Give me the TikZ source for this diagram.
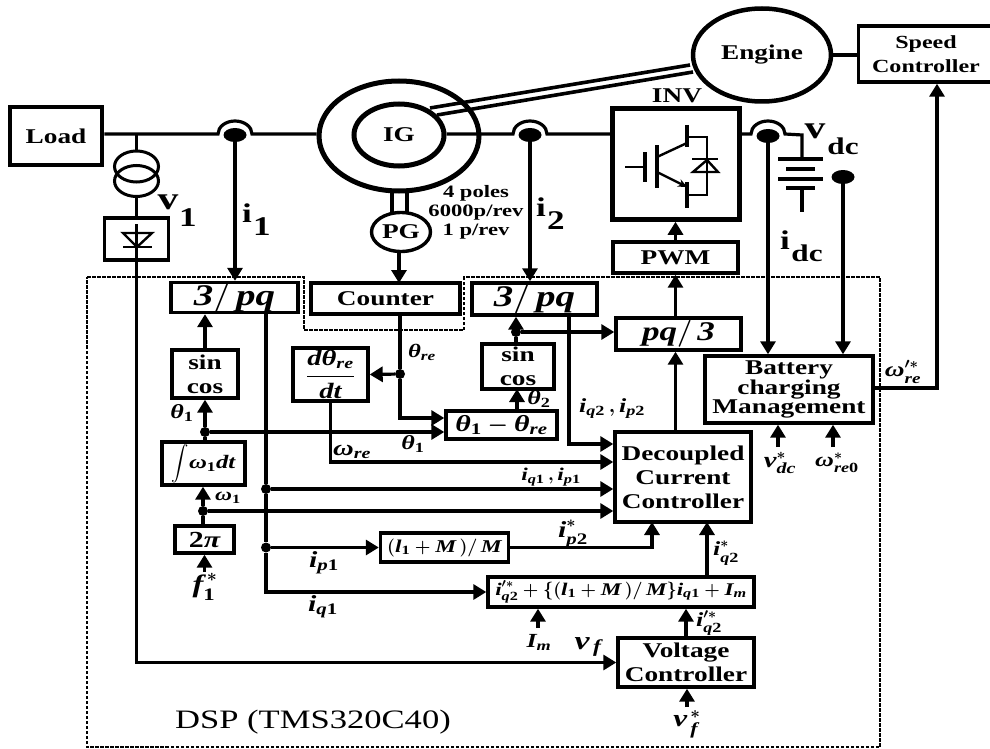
\RequirePackage{fix-cm}
\documentclass[tikz,border=0pt]{standalone}
\usepackage{amsmath}
\usepackage{fontspec}
\setmainfont{Liberation Serif}[FakeStretch=1.3]
\usetikzlibrary{positioning, arrows.meta, shapes.geometric, calc}
\newcommand{\bit}[1]{\text{\bfseries\itshape #1}}
\newcommand{\bup}[1]{\text{\bfseries #1}}
\tikzset{
  wire/.style={line width=3.2pt},
  thinwire/.style={line width=2.4pt},
  sig/.style={wire, -{Triangle[length=13pt,width=15pt]}},
  blk/.style={draw, line width=3.4pt, align=center, inner sep=0pt,
              font=\bfseries\boldmath\fontsize{#1}{24}\selectfont},
  blk/.default=21,
  ring/.style={draw, ellipse, line width=5pt, inner sep=0pt,
               font=\bfseries\fontsize{21}{24}\selectfont},
  sense/.style={ellipse, fill=black, inner sep=0pt, minimum width=23pt, minimum height=14pt},
  dot/.style={circle, fill=black, inner sep=0pt, minimum size=10pt},
  lab/.style={inner sep=0pt, font=\bfseries\boldmath\fontsize{#1}{24}\selectfont},
  lab/.default=20,
  biglab/.style={inner sep=0pt, font=\bfseries\fontsize{#1}{30}\selectfont},
  biglab/.default=27
}
\begin{document}
\begin{tikzpicture}[x=1pt, y=-1pt]
  \useasboundingbox (0,0) rectangle (990,749);
  \draw[dash pattern=on 3.5pt off 1.5pt, line width=1.9pt] (87,277) -- (304,277) -- (304,330) -- (464,330)
        -- (464,277) -- (880,277) -- (880,747) -- (87,747) -- cycle;

  \node[blk, line width=4.5pt, minimum width=92pt, minimum height=58pt] (load) at (56,136) {Load};
  \node[ring, minimum width=160pt, minimum height=110pt] (igo) at (399,136) {};
  \node[ring, minimum width=90pt, minimum height=62pt] (igi) at (399,135) {IG};
  \node[ring, line width=4.5pt, minimum width=138pt, minimum height=93pt] (engine) at (762,55) {Engine};
  \node[blk=18.5, minimum width=135pt, minimum height=56pt] (speed) at (926,54) {Speed\\Controller};
  \node[ring, line width=3.4pt, minimum width=59pt, minimum height=39pt] (pg) at (401,232) {PG};
  \node[blk, line width=4.5pt, minimum width=127pt, minimum height=111pt] (inv) at (676,164) {};
  \node[blk, minimum width=125pt, minimum height=31pt] (pwm) at (675.5,257.5) {PWM};
  \node[blk, minimum width=64pt, minimum height=42pt] (rect) at (136.5,239) {};
  \node[ring, line width=3pt, minimum width=44pt, minimum height=31pt] (xfa) at (136.5,166.5) {};
  \node[ring, line width=3pt, minimum width=44pt, minimum height=31pt] (xfb) at (136.5,181) {};

  \node[blk=30, minimum width=127pt, minimum height=29pt] (pqa) at (234.5,297.5) {$\bit{3}/\,\bit{pq}$};
  \node[blk, minimum width=149pt, minimum height=31pt] (counter) at (385.5,298.5) {Counter};
  \node[blk=30, minimum width=125pt, minimum height=32pt] (pqb) at (534.5,299) {$\bit{3}/\,\bit{pq}$};
  \node[blk=27, minimum width=125pt, minimum height=32pt] (pqc) at (678.5,334) {$\bit{pq}/\,\bit{3}$};
  \node[blk, minimum width=66pt, minimum height=48pt] (sca) at (205,374) {sin\\cos};
  \node[blk=22, minimum width=75pt, minimum height=53pt] (ddt) at (330.5,374.5) {$\dfrac{\bit{d}\bit{θ}_{\bit{re}}}{\bit{dt}}$};
  \node[blk, minimum width=72pt, minimum height=45pt] (scb) at (518,366.5) {sin\\cos};
  \node[blk=23, minimum width=111pt, minimum height=28pt] (diff) at (501.5,425) {$\bit{θ}_{\bup{1}}-\bit{θ}_{\bit{re}}$};
  \node[blk=19, minimum width=83pt, minimum height=43pt] (integ) at (203.5,463.5) {$\displaystyle\int\!\bit{ω}_{\bup{1}}\bit{dt}$};
  \node[blk=23, minimum width=59pt, minimum height=27pt] (twopi) at (204.5,539.5) {$\bup{2}\bit{π}$};
  \node[blk=18, minimum width=128pt, minimum height=29pt] (lm) at (444.5,547.5) {$(\bit{l}_{\bup{1}}+\bit{M}\,)/\,\bit{M}$};
  \node[blk=17.8, minimum width=266pt, minimum height=30pt] (fm) at (621,592) {$\bit{i}_{\bit{q}\bup{2}}^{\prime *}+\{(\bit{l}_{\bup{1}}+\bit{M}\,)/\,\bit{M}\}\bit{i}_{\bit{q}\bup{1}}+\bit{I}_{\bit{m}}$};
  \node[blk, minimum width=136pt, minimum height=90pt] (dec) at (683,477) {Decoupled\\Current\\Controller};
  \node[blk, font=\bfseries\fontsize{21}{19.5}\selectfont, minimum width=168pt, minimum height=67pt] (bat) at (789,389.5) {Battery\\charging\\Management};
  \node[blk, minimum width=136pt, minimum height=49pt] (vc) at (686,662.5) {Voltage\\Controller};

  \node[sense] (ta) at (235,135) {};
  \node[sense] (tb) at (530,135) {};
  \node[sense] (tc) at (768,136) {};
  \node[sense] (td) at (843,177) {};
  \node[dot] (dtha) at (205,432) {};
  \node[dot] (dom) at (203,511) {};
  \node[dot] (dtre) at (400,374) {};
  \node[dot] (dtb) at (516,332) {};
  \node[dot] (dia) at (266,489) {};
  \node[dot] (dib) at (266,547.5) {};
  \coordinate (tv) at (136.5,134);
  \coordinate (diodetop) at (136.5,224);
  \coordinate (stub) at (802,212);
  \coordinate (batplate) at (802,159);
  \coordinate (toplus) at (802,135);
  \coordinate (upr) at (937,388);

  \draw[wire] (load.east |- 0,134) -- (218,134) arc[start angle=180, end angle=360, x radius=17, y radius=13] -- (igo.west |- 0,134);
  \draw[wire] (igi.east |- 0,134) -- (513,134) arc[start angle=180, end angle=360, x radius=17, y radius=13] -- (inv.west |- 0,134);
  \draw[wire] (inv.east |- 0,134) -- (751,134) arc[start angle=180, end angle=360, x radius=17, y radius=13] -- (toplus) -- (batplate);
  \draw[wire] (tv) -- (xfa.north);
  \draw[wire] (xfb.south) -- (rect.north);
  \draw[line width=3.6pt] (430,108) -- (690,65);
  \draw[line width=3.6pt] (437,115) -- (693,72);
  \draw[wire] (engine.east) -- (engine.east -| speed.west);
  \draw[wire] (392,190) -- (392,213);
  \draw[wire] (407,190) -- (407,213);

  \draw[wire] (778,159) -- (823,159);
  \draw[wire] (786,169) -- (815,169);
  \draw[wire] (778,179) -- (823,179);
  \draw[wire] (786,188) -- (815,188);
  \draw[line width=4.5pt] (802,188) -- (stub);

  \draw[thinwire] (625,167) -- (645,167);
  \draw[wire] (645,152) -- (645,182);
  \draw[wire] (657,145) -- (657,188);
  \draw[thinwire] (657,157) -- (687,143);
  \draw[thinwire, -{Stealth[length=9pt,width=8pt]}] (657,172) -- (687,187);
  \draw[wire] (687,125) -- (687,147);
  \draw[wire] (687,182) -- (687,208);
  \draw[thinwire] (687,137) -- (707,137) -- (707,195) -- (687,195);
  \draw[thinwire] (692,159) -- (718,159);
  \draw[thinwire] (707,160) -- (693,172) -- (718,172) -- cycle;

  \draw[thinwire] (123,233) -- (152,233) -- (137,247) -- cycle;
  \draw[thinwire] (123,247) -- (152,247);
  \draw[sig] (diodetop) |- (vc.west);

  \draw[sig] (ta) -- (ta |- pqa.north);
  \draw[sig] (tb) -- (tb |- pqb.north);
  \draw[sig] (tc) -- (tc |- bat.north);
  \draw[sig] (td) -- (td |- bat.north);
  \draw[sig] (pg.south -| 399,0) -- (399,283);
  \draw[sig] (pwm.north) -- (pwm.north |- inv.south);
  \draw[sig] (pqc.north -| pwm.north) -- (pwm.south);
  \draw[sig] (dec.north -| pwm.north) -- (pqc.south -| pwm.north);

  \draw[sig] (sca.north) -- (sca.north |- pqa.south);
  \draw[sig] (dtha) -- (dtha |- sca.south);
  \draw[wire] (integ.north -| dtha) -- (dtha);
  \draw[sig] (dtha) -- (dtha -| diff.west);
  \draw[sig] (dom) -- (dom |- integ.south);
  \draw[wire] (twopi.north -| dom) -- (dom);
  \draw[sig] (dom) -- (dom -| dec.west);
  \coordinate (fa) at (204.5,572);
  \draw[sig] (fa) -- (twopi.south);

  \draw[wire] (dtre |- counter.south) -- (dtre);
  \draw[sig] (dtre) -- (ddt.east);
  \draw[sig] (dtre) |- (diff.west |- 0,418);
  \draw[sig] (ddt.south) |- (dec.west |- 0,462);

  \draw[sig] (dtb) -- (dtb |- pqb.south);
  \draw[wire] (scb.north -| dtb) -- (dtb);
  \draw[sig] (dtb) -- (pqc.west |- dtb);
  \draw[sig] (diff.north -| 517,0) -- (517,389);
  \draw[sig] (569,315) |- (dec.west |- 0,444);

  \draw[wire] (dia |- pqa.south) -- (dia);
  \draw[sig] (dia) -- (dia -| dec.west);
  \draw[wire] (dia) -- (dib);
  \draw[sig] (dib) -- (lm.west);
  \draw[sig] (dib) |- (fm.west);
  \draw[sig] (lm.east) -| (652,522);
  \draw[sig] (707,577) -- (707,522);
  \draw[sig] (vc.north) -- (vc.north |- fm.south);
  \coordinate (im) at (538,628);
  \draw[sig] (im) -- (im |- fm.south);
  \coordinate (vfs) at (687,707);
  \draw[sig] (vfs) -- (vfs |- vc.south);
  \coordinate (vdcs) at (778,447);
  \coordinate (wres) at (833,447);
  \draw[sig] (vdcs) -- (vdcs |- bat.south);
  \draw[sig] (wres) -- (wres |- bat.south);
  \draw[sig] (bat.east |- upr) -- (upr) -- (upr |- speed.south);

  \node[biglab=21] (invlab) at (677,96) {INV};
  \node[inner sep=0pt, align=center, font=\bfseries\fontsize{17.4}{19}\selectfont] (polelab) at (476,212) {4 poles\\6000p/rev\\1 p/rev};
  \node[biglab=32] (va) at (168,202) {v};
  \node[biglab] (vas) at (188,218) {1};
  \node[biglab] (ia) at (247,213) {i};
  \node[biglab] (ias) at (262,227) {1};
  \node[biglab] (ib) at (541,207) {i};
  \node[biglab] (ibs) at (556,221) {2};
  \node[biglab=32] (vd) at (815,131) {v};
  \node[biglab=24] (vds) at (843,146) {dc};
  \node[biglab] (id) at (785,240) {i};
  \node[biglab=24] (ids) at (807,253) {dc};

  \node[lab=19] (lthrea) at (422,352) {$\bit{θ}_{\bit{re}}$};
  \node[lab] (ltha) at (182,413) {$\bit{θ}_{\bup{1}}$};
  \node[lab] (lthb) at (413,444) {$\bit{θ}_{\bup{1}}$};
  \node[lab] (ltht) at (539,399) {$\bit{θ}_{\bup{2}}$};
  \node[lab=22] (lwre) at (352,452) {$\bit{ω}_{\bit{re}}$};
  \node[lab=18] (lwa) at (228,498) {$\bit{ω}_{\bup{1}}$};
  \node[lab=25] (lfa) at (205,587) {$\bit{f}_{\bup{1}}^{\,*}$};
  \node[lab=23] (lip) at (324,563) {$\bit{i}_{\bit{p}\bup{1}}$};
  \node[lab=23] (liq) at (323,607) {$\bit{i}_{\bit{q}\bup{1}}$};
  \node[lab=18] (liqa) at (551,477) {$\bit{i}_{\bit{q}\bup{1}}\,,\bit{i}_{\bit{p}\bup{1}}$};
  \node[lab] (liqb) at (612,409) {$\bit{i}_{\bit{q}\bup{2}}\,,\bit{i}_{\bit{p}\bup{2}}$};
  \node[lab=23] (lips) at (573,534) {$\bit{i}_{\bit{p}\bup{2}}^{*}$};
  \node[lab] (liqs) at (726,553) {$\bit{i}_{\bit{q}\bup{2}}^{*}$};
  \node[lab] (liqp) at (709,623) {$\bit{i}_{\bit{q}\bup{2}}^{\prime *}$};
  \node[lab] (lim) at (539,642) {$\bit{I}_{\bit{m}}$};
  \node[lab=26] (lvf) at (588,647) {$\bit{v}_{\,\bit{f}}$};
  \node[lab=24] (lvfs) at (687,724) {$\bit{v}_{\,\bit{f}}^{\,*}$};
  \node[lab=22] (lvdc) at (780,463) {$\bit{v}_{\bit{dc}}^{*}$};
  \node[lab] (lwrz) at (837,463) {$\bit{ω}_{\bit{re}\bup{0}}^{*}$};
  \node[lab=21] (lwrs) at (903,372) {$\bit{ω}_{\bit{re}}^{\prime *}$};
  \node[inner sep=0pt, font=\fontsize{26.6}{28}\selectfont] (dsp) at (313,722) {DSP (TMS320C40)};
\end{tikzpicture}
\end{document}
